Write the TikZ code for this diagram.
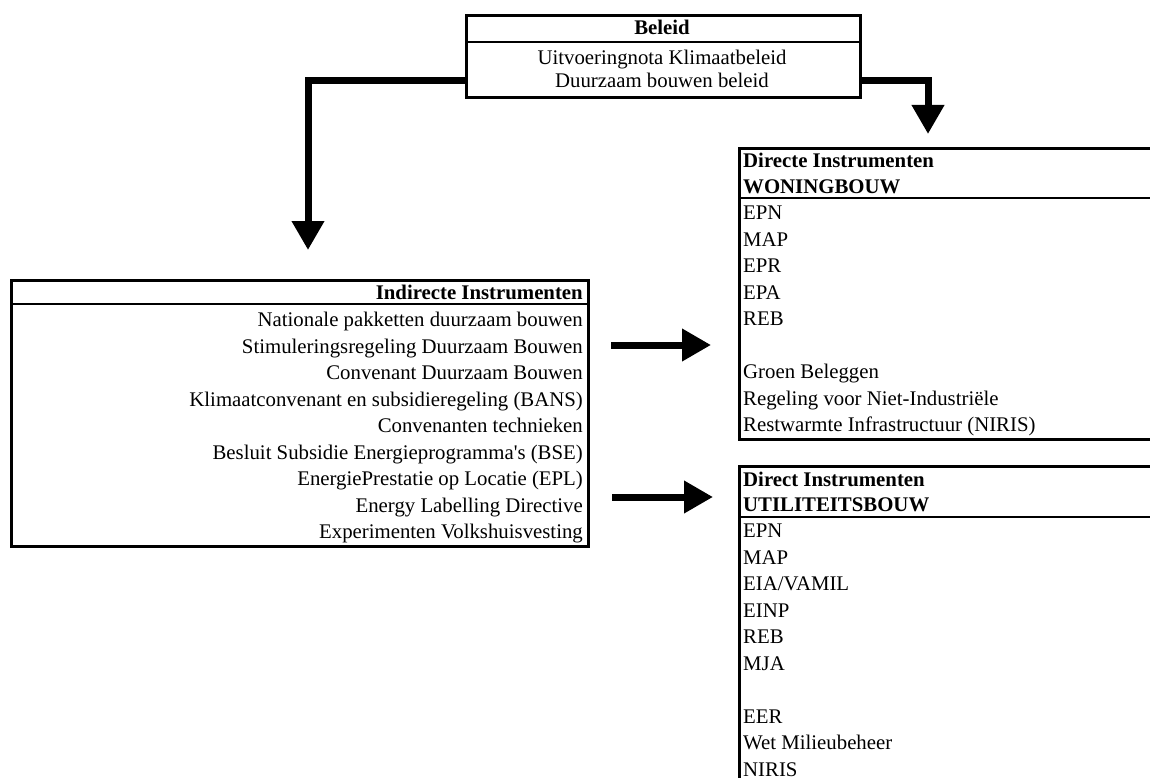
\documentclass[tikz,border=0pt]{standalone}
\usepackage{fontspec}
\setmainfont{Liberation Serif}
\usetikzlibrary{arrows.meta}
\begin{document}
\begin{tikzpicture}[x=1pt,y=-1pt,
  box/.style={draw,line width=3pt,inner sep=0pt,anchor=north west},
  divider/.style={line width=2.6pt},
  txt/.style={inner sep=0pt,font=\fontsize{20.8}{25}\selectfont},
  hd/.style={txt,font=\fontsize{20.8}{25}\selectfont\bfseries},
  flow/.style={line width=7pt,-{Triangle[length=29pt,width=31pt]}}]
\useasboundingbox (0,0) rectangle (1150,778);
\clip (0,0) rectangle (1150,778);

% Beleid
\node[box,minimum width=394pt,minimum height=82pt] (beleid) at (465,14) {};
\draw[divider] (beleid.north west |- 0,42) -- (beleid.north east |- 0,42);
\node[hd,anchor=base] (beleidh) at (662,34.5) {Beleid};
\node[txt,anchor=base] (beleid1) at (662,64.5) {Uitvoeringnota Klimaatbeleid};
\node[txt,anchor=base] (beleid2) at (662,88) {Duurzaam bouwen beleid};

% Indirecte instrumenten
\node[box,minimum width=577pt,minimum height=266pt] (indirect) at (10,279) {};
\draw[divider] (indirect.north west |- 0,304) -- (indirect.north east |- 0,304);
\node[hd,anchor=base east] (indh) at (583,299.5) {Indirecte Instrumenten};
\foreach \t [count=\i from 0] in {Nationale pakketten duurzaam bouwen,
  Stimuleringsregeling Duurzaam Bouwen,
  Convenant Duurzaam Bouwen,
  Klimaatconvenant en subsidieregeling (BANS),
  Convenanten technieken,
  Besluit Subsidie Energieprogramma\textquotesingle s (BSE),
  EnergiePrestatie op Locatie (EPL),
  Energy Labelling Directive,
  Experimenten Volkshuisvesting}
  \node[txt,anchor=base east] (ind\i) at (583,326.5+26.5*\i) {\t};

% Directe instrumenten woningbouw
\node[box,minimum width=430pt,minimum height=291pt] (woning) at (738,147) {};
\draw[divider] (woning.north west |- 0,198) -- (woning.north east |- 0,198);
\node[hd,anchor=base west] (wonh1) at (743,167.3) {Directe Instrumenten};
\node[hd,anchor=base west] (wonh2) at (743,193.3) {WONINGBOUW};
\foreach \k/\t in {0/EPN,1/MAP,2/EPR,3/EPA,4/REB,6/Groen Beleggen,
  7/Regeling voor Niet-Industriële,8/Restwarmte Infrastructuur (NIRIS)}
  \node[txt,anchor=base west] (won\k) at (743,219.5+26.5*\k) {\t};

% Direct instrumenten utiliteitsbouw
\node[box,minimum width=430pt,minimum height=340pt] (util) at (738,465) {};
\draw[divider] (util.north west |- 0,517) -- (util.north east |- 0,517);
\node[hd,anchor=base west] (utih1) at (743,486.5) {Direct Instrumenten};
\node[hd,anchor=base west] (utih2) at (743,511.5) {UTILITEITSBOUW};
\foreach \k/\t in {0/EPN,1/MAP,2/{EIA/VAMIL},3/EINP,4/REB,5/MJA,7/EER,
  8/Wet Milieubeheer,9/NIRIS}
  \node[txt,anchor=base west] (uti\k) at (743,537.5+26.5*\k) {\t};

% connectors
\coordinate (lend) at (308,250);
\coordinate (rend) at (928,134);
\draw[flow] ([yshift=-24pt]beleid.west) -| (lend);
\draw[flow] ([yshift=-24pt]beleid.east) -| (rend);
\coordinate (a1s) at (611,345);
\coordinate (a1e) at (711,345);
\coordinate (a2s) at (612,497);
\coordinate (a2e) at (713,497);
\draw[flow] (a1s) -- (a1e);
\draw[flow] (a2s) -- (a2e);
\end{tikzpicture}
\end{document}
